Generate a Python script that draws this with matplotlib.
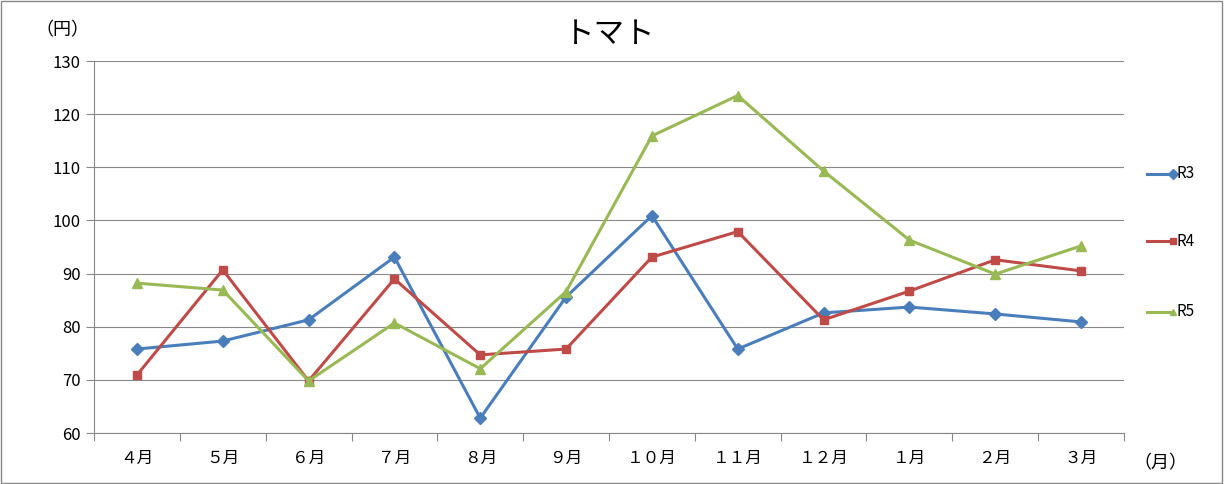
import matplotlib.pyplot as plt
from matplotlib.lines import Line2D

plt.rcParams['font.family'] = ['Noto Sans CJK JP', 'DejaVu Sans']

months = ['４月', '５月', '６月', '７月', '８月', '９月', '１０月', '１１月', '１２月', '１月', '２月', '３月']
r3 = [75.8, 77.3, 81.3, 93.1, 62.8, 85.6, 100.9, 75.8, 82.6, 83.7, 82.4, 80.9]
r4 = [70.9, 90.7, 69.8, 89.0, 74.7, 75.8, 93.1, 97.9, 81.3, 86.7, 92.6, 90.5]
r5 = [88.2, 86.9, 69.8, 80.7, 72.1, 86.6, 115.9, 123.5, 109.3, 96.3, 89.9, 95.2]

fig = plt.figure(figsize=(12.24, 4.84), dpi=100)
ax = fig.add_axes([94/1224, 1 - 433/484, (1124-94)/1224, (433-61)/484])

x = range(len(months))
ax.plot(x, r3, color='#4a7ebb', marker='D', markersize=6, lw=2.2, label='R3')
ax.plot(x, r4, color='#be4b48', marker='s', markersize=6, lw=2.2, label='R4')
ax.plot(x, r5, color='#98b954', marker='^', markersize=7, lw=2.2, label='R5')

ax.set_ylim(60, 130)
ax.set_yticks(range(60, 131, 10))
ax.set_xlim(-0.5, len(months) - 0.5)
ax.set_xticks([i - 0.5 for i in range(len(months) + 1)])
ax.set_xticklabels([])
ax.set_xticks(list(x), minor=True)
ax.set_xticklabels(months, minor=True, fontsize=12)
ax.tick_params(axis='x', which='minor', length=0, pad=12)
ax.tick_params(axis='x', which='major', length=6, color='#888888')
ax.tick_params(axis='y', length=6, color='#888888', labelsize=12)
ax.grid(axis='y', color='#888888', lw=0.8)
ax.set_axisbelow(True)
for s in ['top', 'right']:
    ax.spines[s].set_visible(False)
for s in ['left', 'bottom']:
    ax.spines[s].set_color('#888888')

fig.text(610/1224, 1 - 35/484, 'トマト', fontsize=22, ha='center', va='center')
fig.text(62/1224, 1 - 30/484, '（円）', fontsize=13, ha='center', va='center')
fig.text(1160/1224, 1 - 463/484, '（月）', fontsize=13, ha='center', va='center')

for line, yy in zip(ax.get_lines(), [174, 241, 312]):
    fig.add_artist(Line2D([1147/1224, 1173/1224], [1 - yy/484] * 2, color=line.get_color(),
                          marker=line.get_marker(), markersize=5, lw=2.2,
                          markevery=[1], transform=fig.transFigure))
for lab, yy in zip(['R3', 'R4', 'R5'], [174, 241, 312]):
    fig.text(1176/1224, 1 - yy/484, lab, fontsize=11, va='center')

fig.add_artist(plt.Rectangle((0.001, 0.002), 0.997, 0.996, fill=False, ec='#888888', lw=1,
                             transform=fig.transFigure))
fig.savefig('out.png')
